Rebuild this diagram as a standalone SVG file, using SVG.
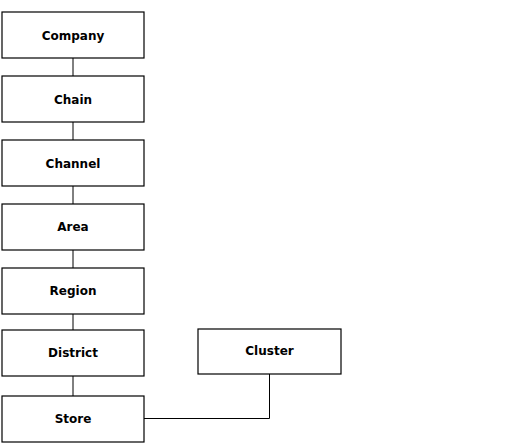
<svg xmlns="http://www.w3.org/2000/svg" width="512" height="444" viewBox="0 0 512 444">
<style>
.box{fill:#fff;stroke:#000;stroke-width:1.2}
.lbl{font-family:"DejaVu Sans",Verdana,sans-serif;font-weight:bold;font-size:12px;text-anchor:middle;fill:#000}
.con{fill:none;stroke:#000;stroke-width:1}
</style>
<rect width="512" height="444" fill="#fff"/>
<g id="connectors">
<line class="con" x1="73" y1="58" x2="73" y2="76"/>
<line class="con" x1="73" y1="122" x2="73" y2="140"/>
<line class="con" x1="73" y1="186" x2="73" y2="204"/>
<line class="con" x1="73" y1="250" x2="73" y2="268"/>
<line class="con" x1="73" y1="314" x2="73" y2="330"/>
<line class="con" x1="73" y1="376" x2="73" y2="396"/>
<polyline class="con" points="144,418.5 269.5,418.5 269.5,374"/>
</g>
<g id="company"><rect class="box" x="2" y="12" width="142" height="46"/><text class="lbl" x="73" y="39.5">Company</text></g>
<g id="chain"><rect class="box" x="2" y="76" width="142" height="46"/><text class="lbl" x="73" y="103.5">Chain</text></g>
<g id="channel"><rect class="box" x="2" y="140" width="142" height="46"/><text class="lbl" x="73" y="167.5">Channel</text></g>
<g id="area"><rect class="box" x="2" y="204" width="142" height="46"/><text class="lbl" x="73" y="231">Area</text></g>
<g id="region"><rect class="box" x="2" y="268" width="142" height="46"/><text class="lbl" x="73" y="295">Region</text></g>
<g id="district"><rect class="box" x="2" y="330" width="142" height="46"/><text class="lbl" x="73" y="357">District</text></g>
<g id="store"><rect class="box" x="2" y="396" width="142" height="46"/><text class="lbl" x="73" y="423">Store</text></g>
<g id="cluster"><rect class="box" x="198" y="329" width="143" height="45"/><text class="lbl" x="269.5" y="355">Cluster</text></g>
</svg>
